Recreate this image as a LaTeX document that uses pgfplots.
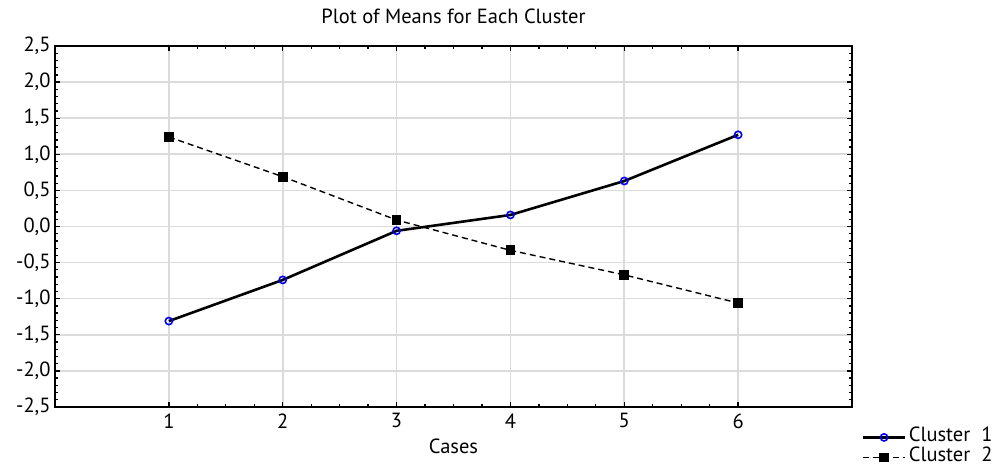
\documentclass[border=0pt]{standalone}
\usepackage{fontspec}
\setmainfont{PT Sans}
\usepackage{pgfplots}
\pgfplotsset{compat=1.18}
\begin{document}
\begin{tikzpicture}[x=1pt,y=1pt]
\begin{axis}[
    name=ax,
    scale only axis,
    width=797pt, height=361pt,
    xmin=0, xmax=7,
    ymin=-2.5, ymax=2.5,
    xtick={1,...,6},
    ytick={-2.5,-2,...,2.5},
    minor x tick num=3,
    minor y tick num=4,
    tick align=inside,
    major tick length=5pt,
    minor tick length=3pt,
    every tick/.style={black, line width=1.3pt},
    axis line style={line width=2pt},
    xmajorgrids=true, ymajorgrids=true,
    grid style={color=black!14, line width=1.6pt},
    /pgf/number format/.cd, use comma, fixed, fixed zerofill, precision=1,
    /pgfplots/.cd,
    xticklabel={\pgfmathprintnumber[fixed, precision=0]{\tick}},
    /pgf/number format/assume math mode=true,
    ticklabel style={font=\fontsize{20.5}{24}\selectfont},
    yticklabel style={xshift=-1pt},
    xticklabel style={yshift=-3pt},
    xlabel={Cases},
    xlabel style={font=\fontsize{20.5}{24}\selectfont, at={(0.5,0)}, anchor=base, yshift=-46pt},
    title={Plot of Means for Each Cluster},
    title style={font=\fontsize{20.5}{24}\selectfont, at={(0.5,1)}, anchor=base, yshift=16pt},
    legend style={draw=none, fill=none, at={(1.012,-0.056)}, anchor=north west,
        font=\fontsize{20.5}{20}\selectfont, row sep=0pt, inner sep=0pt,
        nodes={text height=14pt, text depth=5pt, inner ysep=0.5pt, inner xsep=2.5pt}},
    legend cell align=left,
    legend image code/.code={
        \draw[mark repeat=2, mark phase=2, #1] plot coordinates {(0pt,0pt)(21pt,0pt)(42pt,0pt)};
    },
    clip=false,
]
\addplot[black, line width=2.6pt, mark=o, mark size=3.6pt,
    mark options={blue, solid, line width=1.6pt, fill=none}] coordinates {
    (1,-1.31)(2,-0.74)(3,-0.06)(4,0.16)(5,0.63)(6,1.27)
};
\addlegendentry{Cluster\ \ 1}
\addplot[black, line width=1.4pt, dash pattern=on 6pt off 4pt, mark=square*, mark size=4.2pt,
    mark options={solid}] coordinates {
    (1,1.24)(2,0.69)(3,0.09)(4,-0.33)(5,-0.67)(6,-1.06)
};
\addlegendentry{Cluster\ \ 2}
\end{axis}
\path (ax.south west) ++(-55pt,-58pt) rectangle ++(995pt,465pt);
\end{tikzpicture}
\end{document}
